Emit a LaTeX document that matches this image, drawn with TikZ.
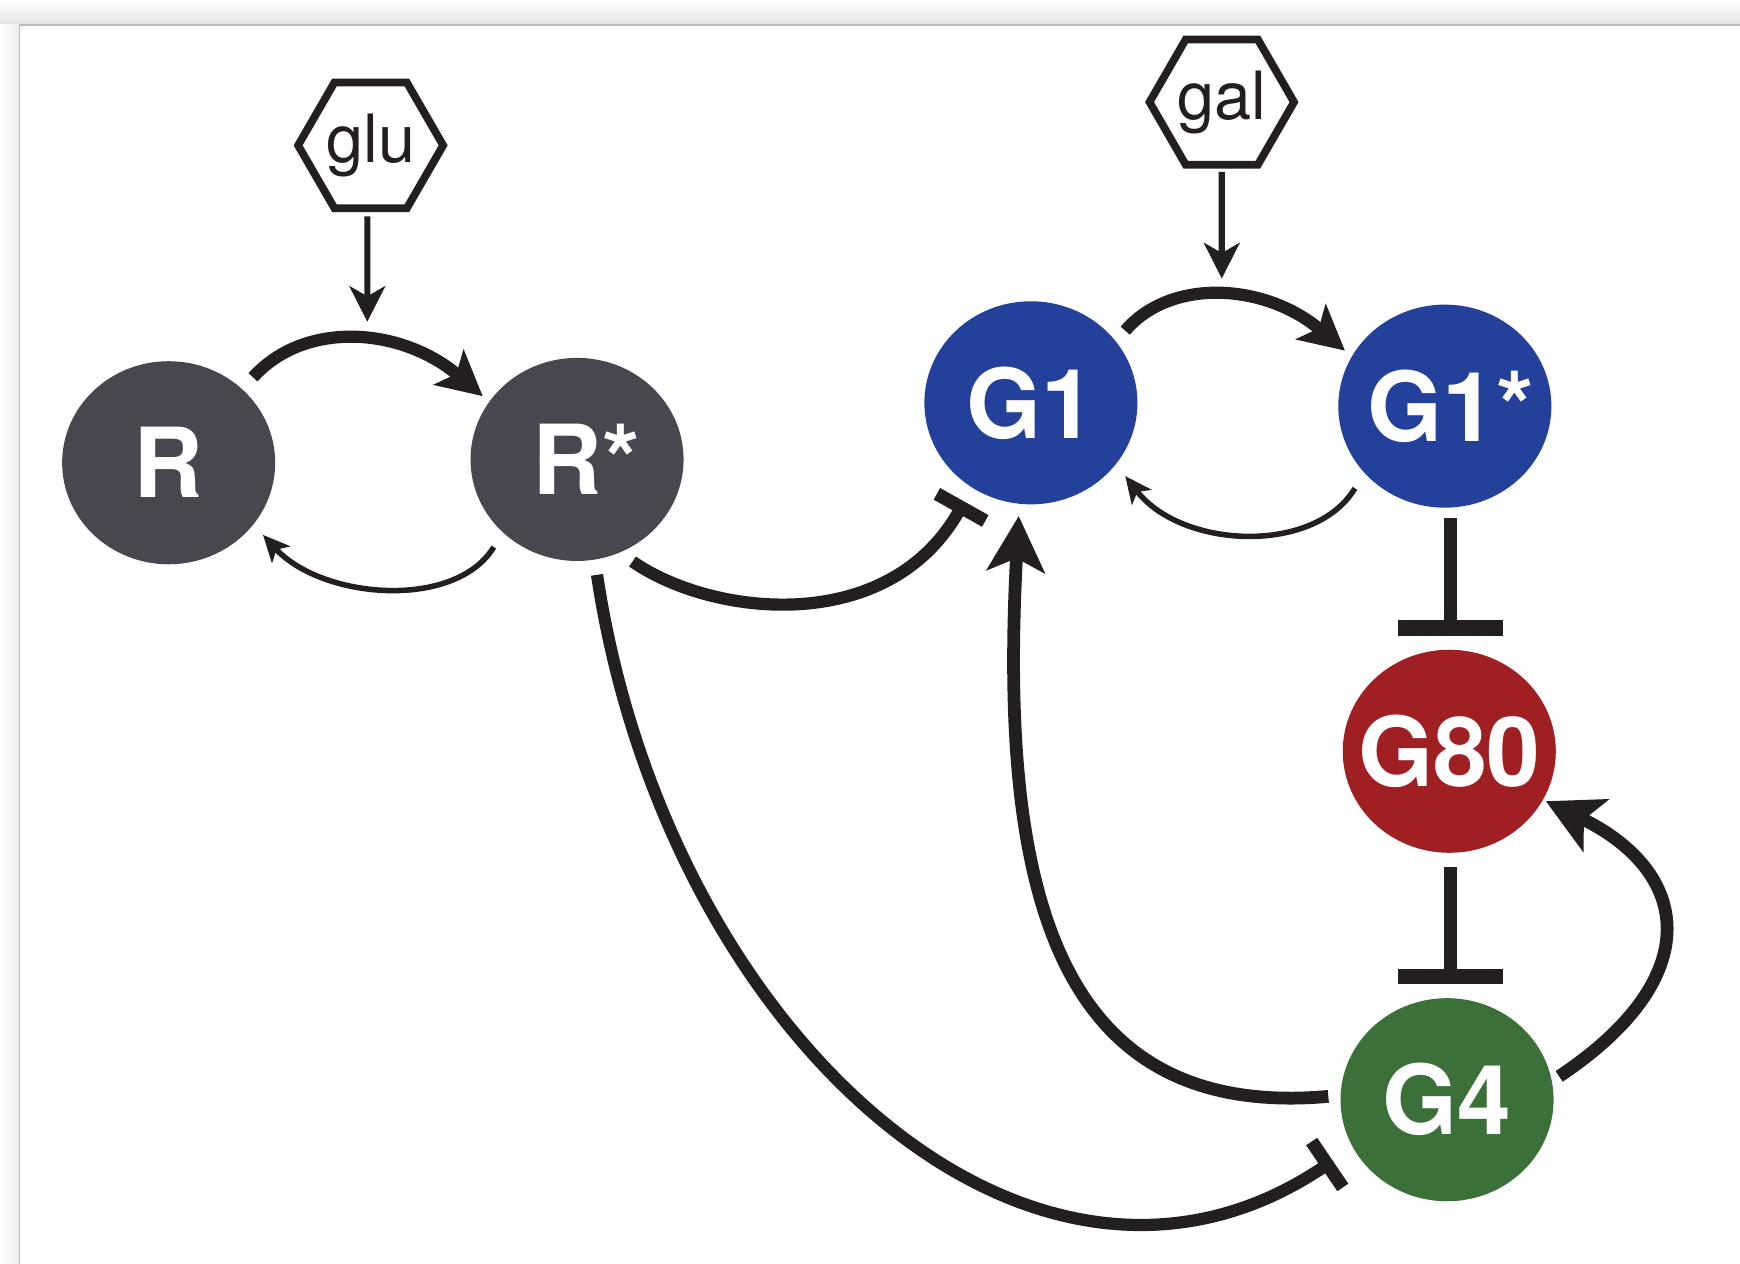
\documentclass[tikz,border=0pt]{standalone}
\usepackage{fontspec}
\setmainfont{TeX Gyre Heros}
\usetikzlibrary{arrows.meta,shapes.geometric,calc}
\definecolor{ink}{HTML}{231F20}
\definecolor{rgray}{HTML}{47474F}
\definecolor{gblue}{HTML}{23409A}
\definecolor{gred}{HTML}{A01F22}
\definecolor{ggreen}{HTML}{3B7038}
\newcommand{\splab}[2][0pt]{\makebox[0pt]{\hspace*{#1}\hspace*{#1}#2}}
\begin{document}
\begin{tikzpicture}[x=1pt,y=-1pt,
  species/.style={ellipse, minimum width=192pt, minimum height=183pt, inner sep=0pt,
    text=white, font=\fontsize{87}{87}\selectfont\bfseries},
  sugar/.style={regular polygon, regular polygon sides=6, minimum size=122pt, inner sep=0pt,
    draw=ink, line width=7pt, font=\fontsize{60}{60}\selectfont, text=ink},
  sugarArrow/.style={draw=ink, line width=5.5pt, -{Stealth[length=32pt,width=32pt,inset=9pt]}},
  act/.style={draw=ink, line width=11pt, -{Stealth[length=40pt,width=41pt,inset=9pt]}},
  bigact/.style={draw=ink, line width=11.5pt, -{Stealth[length=50pt,width=52pt,inset=12pt]}},
  backact/.style={draw=ink, line width=5pt, -{Stealth[length=24pt,width=22pt,inset=6pt]}},
  inhib/.style={draw=ink, line width=11pt, -{Bar[width=50pt,line width=12pt]}},
  vinhib/.style={draw=ink, line width=12pt, -{Bar[width=95pt,line width=14pt]}}
]
\useasboundingbox (0,0) rectangle (1568,1139);
% page frame
\fill[white] (0,0) rectangle (1568,1139);
\shade[top color=white, bottom color=gray!22] (0,0) rectangle (1568,22);
\shade[left color=white, right color=gray!15] (0,22) rectangle (17,1139);
\fill[white] (17,22) rectangle (1568,1139);
\draw[gray!55, line width=1.2pt] (17.5,1139) -- (17.5,22.5) -- (1568,22.5);

% species
\node[species, fill=rgray] (R) at (152,417) {\splab{R}};
\node[species, fill=rgray] (Rs) at (520,414) {\splab[8pt]{R*}};
\node[species, fill=gblue] (G1) at (929,363) {\splab{G1}};
\node[species, fill=gblue] (G1s) at (1302,366) {\splab[5pt]{G1*}};
\node[species, fill=gred] (G80) at (1306,677) {\splab{G80}};
\node[species, fill=ggreen] (G4) at (1304,991) {\splab{G4}};
\node[sugar] (glu) at (334,131) {glu};
\node[sugar] (gal) at (1101,92) {gal};
\coordinate (gluT) at (331,290);
\coordinate (galT) at (1101,251);

% sugar inputs
\draw[sugarArrow, shorten <=4pt] ([xshift=-3pt]glu.south) -- (gluT);
\draw[sugarArrow, shorten <=3pt] (gal.south) -- (galT);

% activation cycles
\draw[act] ($(R)+(76,-77)$) .. controls +(47,-52) and +(-73,-62) .. ($(Rs)+(-85,-57)$);
\draw[backact] ($(Rs)+(-75,79)$) .. controls +(-35,57) and +(53,58) .. ($(R)+(85,65)$);
\draw[act] ($(G1)+(85,-65)$) .. controls +(41,-48) and +(-72,-61) .. ($(G1s)+(-90,-50)$);
\draw[backact] ($(G1s)+(-81,74)$) .. controls +(-36,60) and +(51,66) .. ($(G1)+(85,66)$);

% repressions from R*
\draw[inhib] ($(Rs)+(50,92)$) .. controls +(70,49) and +(-69,123) .. ($(G1)+(-60,89)$);
\draw[inhib] ($(Rs)+(18,104)$) .. controls +(62,412) and +(-271,184) .. ($(G4)+(-103,55)$);

% G4 activations
\draw[bigact] ($(G4)+(-107,-3)$) .. controls +(-247,22) and +(-18,335) .. ($(G1)+(-11,102)$);
\draw[bigact] ($(G4)+(101,-21)$) .. controls +(135,-90) and +(130,63) .. ($(G80)+(87,45)$);

% vertical repressions
\draw[vinhib, shorten <=9.5pt, shorten >=12.5pt] ([xshift=5pt]G1s.south) -- ([xshift=1pt]G80.north);
\draw[vinhib, shorten <=12.5pt, shorten >=12.5pt] ([xshift=1pt]G80.south) -- ([xshift=3pt]G4.north);
\end{tikzpicture}
\end{document}
